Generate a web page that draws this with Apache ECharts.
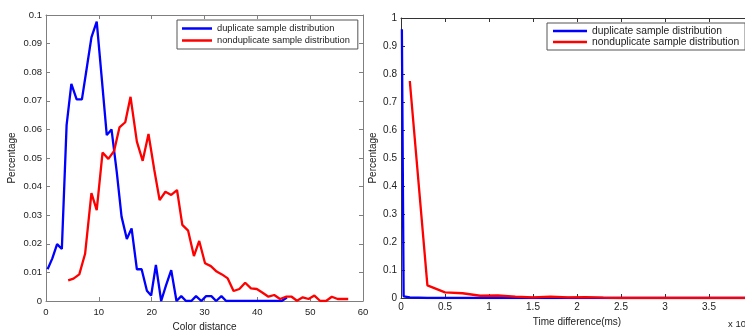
<!DOCTYPE html>
<html>
<head>
<meta charset="utf-8">
<script src="https://cdn.jsdelivr.net/npm/echarts@6/dist/echarts.min.js"></script>
<style>
  html, body { margin: 0; padding: 0; background: #fff; }
  #chart { width: 745px; height: 331px; }
</style>
</head>
<body>
<div id="chart"></div>
<script>
// left panel: colour distance
const dupColorX = [0.3, 1.2, 2.1, 3.0, 3.9, 4.8, 5.8, 6.8, 7.7, 8.6, 9.6, 10.5, 11.5, 12.4, 13.4, 14.3, 15.3, 16.2, 17.2, 18.1, 19.1, 19.9, 20.8, 21.8, 22.7, 23.7, 24.7, 25.6, 26.5, 27.5, 28.4, 29.4, 30.3, 31.3, 32.2, 33.2, 34.1, 35.1, 36.0, 37.0, 37.9, 38.9, 39.8, 40.8, 41.7, 42.7, 43.6, 44.6, 45.6]
const dupColorY = [0.0111, 0.0149, 0.0199, 0.0182, 0.0615, 0.0759, 0.0705, 0.0705, 0.0813, 0.0922, 0.0977, 0.079, 0.058, 0.06, 0.045, 0.0295, 0.0217, 0.0254, 0.0111, 0.0111, 0.0036, 0.0019, 0.0126, 0, 0.0054, 0.0108, 0, 0.0017, 0, 0, 0.0017, 0, 0.0017, 0.0017, 0, 0.0017, 0, 0, 0, 0, 0, 0, 0, 0, 0, 0, 0, 0, 0.0012]
const nonColorX = [4.2, 5.2, 6.3, 7.4, 8.6, 9.6, 10.7, 11.8, 12.9, 13.9, 15.0, 16.0, 17.2, 18.3, 19.4, 20.5, 21.5, 22.6, 23.7, 24.8, 25.8, 26.9, 28.0, 29.0, 30.1, 31.2, 32.3, 33.3, 34.4, 35.5, 36.6, 37.7, 38.8, 39.9, 41.0, 42.1, 43.2, 44.3, 45.4, 46.5, 47.5, 48.6, 49.7, 50.8, 51.9, 53.0, 54.1, 55.2, 56.3, 57.2]
const nonColorY = [0.0072, 0.0078, 0.0093, 0.0165, 0.0377, 0.0318, 0.0519, 0.0497, 0.0525, 0.0607, 0.0625, 0.0714, 0.0557, 0.049, 0.0584, 0.0458, 0.0353, 0.0382, 0.0371, 0.0388, 0.0266, 0.0246, 0.0157, 0.021, 0.0132, 0.0122, 0.0103, 0.0093, 0.0079, 0.0035, 0.0042, 0.0064, 0.0044, 0.0042, 0.0029, 0.0015, 0.0021, 0.0007, 0.0015, 0.0015, 0.0001, 0.0013, 0.0007, 0.0019, 0, 0, 0.0015, 0.0007, 0.0007, 0.0007]

// right panel: time difference (x 10^4 ms)
const dupTimeX = [0.01, 0.03, 0.05, 0.1, 0.15, 0.2, 0.3, 1.0, 2.0, 3.0, 4.1]
const dupTimeY = [0.96, 0.006, 0.004, 0.002, 0.001, 0.001, 0, 0, 0, 0, 0]
const nonTimeX = [0.1, 0.3, 0.5, 0.7, 0.9, 1.1, 1.3, 1.5, 1.7, 1.9, 2.1, 2.3, 2.5, 2.7, 2.9, 3.1, 3.3, 3.5, 3.7, 3.9, 4.1]
const nonTimeY = [0.775, 0.045, 0.02, 0.017, 0.008, 0.009, 0.005, 0.002, 0.005, 0.002, 0.003, 0.001, 0, 0, 0, 0, 0, 0, 0, 0, 0]

const DUP = "duplicate sample distribution"
const NON = "nonduplicate sample distribution"
const FONT = "Liberation Sans, Arial, sans-serif"
const TXT = "#222"

const zip = (xs, ys) => xs.map((x, i) => [x, ys[i]])

function axisPair(gridIndex, min, max, interval, lineColor, fontSize, margin, isX, name, nameGap) {
  const base = {
    gridIndex, type: "value", min, max, interval,
    splitLine: { show: false },
    axisLine: { show: true, onZero: false, lineStyle: { color: lineColor, width: 1 } },
    axisTick: { show: true, inside: true, length: 4, lineStyle: { color: lineColor } },
  }
  const main = Object.assign({}, base, {
    position: isX ? "bottom" : "left",
    axisLabel: { color: TXT, fontSize, fontFamily: FONT, margin, showMinLabel: true, showMaxLabel: true },
    name,
    nameLocation: "middle",
    nameGap,
    nameTextStyle: { color: TXT, fontSize: 10, fontFamily: FONT },
  })
  const opp = Object.assign({}, base, {
    position: isX ? "top" : "right",
    axisLabel: { show: false },
  })
  return [main, opp]
}

const chart = echarts.init(document.getElementById("chart"), null, { renderer: "canvas" })

const lineSeries = (name, color, xi, yi, data) => ({
  type: "line",
  name,
  xAxisIndex: xi,
  yAxisIndex: yi,
  data,
  symbol: "none",
  showSymbol: false,
  lineStyle: { color, width: 2.3 },
  itemStyle: { color },
  animation: false,
})

const legendBase = {
  orient: "vertical",
  icon: "rect",
  itemWidth: 30,
  itemHeight: 2.5,
  itemGap: 3,
  backgroundColor: "#fff",
  borderColor: "#555",
  borderWidth: 1,
  borderRadius: 0,
  selectedMode: false,
  data: [DUP, NON],
}

chart.setOption({
  backgroundColor: "#fff",
  animation: false,
  grid: [
    { left: 46, top: 15, width: 317, height: 286, outerBoundsMode: "none", containLabel: false },
    // the right panel runs past the edge of the picture, as in the source figure
    { left: 401, top: 18, width: 352, height: 280, outerBoundsMode: "none", containLabel: false },
  ],
  xAxis: [
    ...axisPair(0, 0, 60, 10, "#7f7f7f", 9.5, 6, true, "Color distance", 16),
    ...axisPair(1, 0, 4, 0.5, "#333", 10, 4, true, "Time difference(ms)", 17),
  ],
  yAxis: [
    ...axisPair(0, 0, 0.1, 0.01, "#7f7f7f", 9.5, 4, false, "Percentage", 29),
    ...axisPair(1, 0, 1, 0.1, "#333", 10, 4, false, "Percentage", 23),
  ],
  legend: [
    Object.assign({}, legendBase, {
      left: 177, top: 20, padding: [4, 8, 4, 5],
      textStyle: { color: TXT, fontSize: 9.3, fontFamily: FONT },
    }),
    Object.assign({}, legendBase, {
      left: 547, top: 23, padding: [3, 6, 3, 6], itemWidth: 34, itemGap: 1,
      textStyle: { color: TXT, fontSize: 10.3, fontFamily: FONT },
    }),
  ],
  graphic: [
    {
      type: "text",
      left: 728,
      top: 319,
      style: {
        text: "x 10{s|4}",
        fill: TXT,
        font: "9.5px " + FONT,
        rich: { s: { fontSize: 7, verticalAlign: "top", fill: TXT } },
      },
    },
  ],
  series: [
    lineSeries(DUP, "#0000ff", 0, 0, zip(dupColorX, dupColorY)),
    lineSeries(NON, "#ff0000", 0, 0, zip(nonColorX, nonColorY)),
    lineSeries(DUP, "#0000ff", 2, 2, zip(dupTimeX, dupTimeY)),
    lineSeries(NON, "#ff0000", 2, 2, zip(nonTimeX, nonTimeY)),
  ],
})
</script>
</body>
</html>
